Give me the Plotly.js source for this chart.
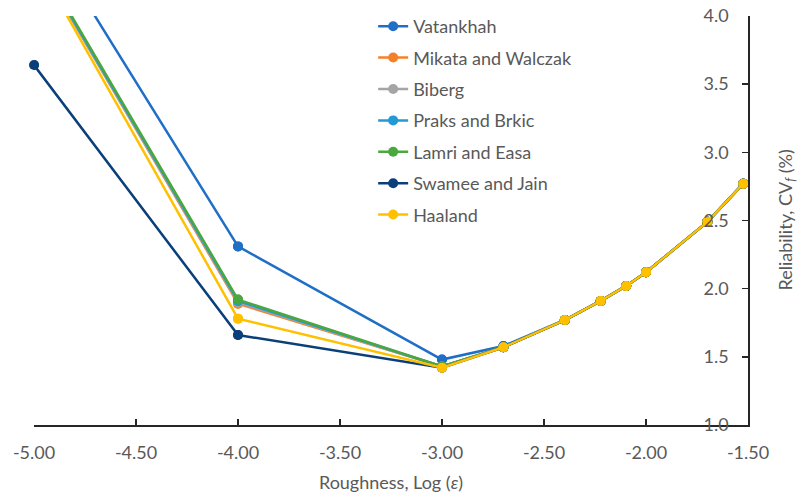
<!DOCTYPE html>
<html>
<head>
<meta charset="utf-8">
<script src="https://cdn.plot.ly/plotly-3.0.1.min.js"></script>
<style>html,body{margin:0;padding:0;background:#fff;}#chart{width:798px;height:498px;}</style>
</head>
<body>
<div id="chart"></div>
<script>
// log10 of roughness
const logRoughness = [-5.0, -4.0, -3.0, -2.699, -2.398, -2.222, -2.097, -2.0, -1.699, -1.523];

const seriesNames = ["Vatankhah", "Mikata and Walczak", "Biberg", "Praks and Brkic", "Lamri and Easa", "Swamee and Jain", "Haaland"];
const seriesColors = ["#1f6fc6", "#f5802a", "#a5a5a5", "#2399d6", "#4aa83f", "#0b3f7a", "#ffc000"];

const vatankhah = [4.72, 2.31, 1.48, 1.58, 1.77, 1.91, 2.02, 2.12, 2.49, 2.77];
const mikata    = [4.45, 1.89, 1.43, 1.57, 1.77, 1.91, 2.02, 2.12, 2.49, 2.77];
const biberg    = [4.45, 1.90, 1.43, 1.57, 1.77, 1.91, 2.02, 2.12, 2.49, 2.77];
const praks     = [4.46, 1.91, 1.43, 1.57, 1.77, 1.91, 2.02, 2.12, 2.49, 2.77];
const lamri     = [4.47, 1.92, 1.43, 1.57, 1.77, 1.91, 2.02, 2.12, 2.49, 2.77];
const swamee    = [3.64, 1.66, 1.42, 1.57, 1.77, 1.91, 2.02, 2.12, 2.49, 2.77];
const haaland   = [4.43, 1.78, 1.42, 1.57, 1.77, 1.91, 2.02, 2.12, 2.49, 2.77];

const seriesValues = [vatankhah, mikata, biberg, praks, lamri, swamee, haaland];

const xTickVals = [-5.0, -4.5, -4.0, -3.5, -3.0, -2.5, -2.0, -1.5];
const xTickText = ["-5.00", "-4.50", "-4.00", "-3.50", "-3.00", "-2.50", "-2.00", "-1.50"];
const yTickVals = [1.0, 1.5, 2.0, 2.5, 3.0, 3.5, 4.0];
const yTickText = ["1.0", "1.5", "2.0", "2.5", "3.0", "3.5", "4.0"];

const FONT = "Lato, 'Open Sans', sans-serif";
const GREY = "#595959";
const FS = 18;

const traces = [];
seriesNames.forEach((name, i) => {
  traces.push({
    type: "scatter", mode: "lines+markers", name: name,
    x: logRoughness, y: seriesValues[i],
    legendgroup: name,
    line: {color: seriesColors[i], width: 2.5},
    marker: {color: seriesColors[i], size: 10},
    cliponaxis: true
  });
  traces.push({
    type: "scatter", mode: "markers", name: name,
    x: logRoughness, y: seriesValues[i],
    legendgroup: name, showlegend: false, hoverinfo: "skip",
    marker: {color: seriesColors[i], size: 10},
    cliponaxis: false
  });
});

const layout = {
  width: 798, height: 498,
  margin: {l: 34, r: 50, t: 16, b: 73, autoexpand: false},
  paper_bgcolor: "#ffffff", plot_bgcolor: "#ffffff",
  font: {family: FONT, size: FS, color: GREY},
  showlegend: true,
  legend: {
    x: 0.475, y: 1.0196, xanchor: "left", yanchor: "top",
    font: {family: FONT, size: FS, color: GREY},
    traceorder: "grouped", tracegroupgap: 5,
    bgcolor: "rgba(0,0,0,0)", borderwidth: 0
  },
  xaxis: {
    range: [-5.0, -1.5],
    tickvals: xTickVals, ticktext: xTickText,
    ticks: "inside", ticklen: 6, tickwidth: 1.5, tickcolor: "#262626",
    ticklabelstandoff: 11,
    showline: true, linecolor: "#262626", linewidth: 1.6,
    showgrid: false, zeroline: false,
    tickfont: {family: FONT, size: FS, color: GREY},
    title: {text: "Roughness, Log (<i>ε</i>)", font: {family: FONT, size: FS, color: GREY}, standoff: 14}
  },
  yaxis: {
    range: [1.0, 4.0],
    side: "right",
    tickvals: yTickVals, ticktext: yTickText,
    ticks: "inside", ticklen: 6, tickwidth: 1.5, tickcolor: "#262626",
    ticklabelposition: "inside", ticklabeloverflow: "allow",
    ticklabelstandoff: 14,
    showline: true, linecolor: "#262626", linewidth: 1.8,
    showgrid: false, zeroline: false,
    tickfont: {family: FONT, size: FS, color: GREY}
  },
  annotations: [{
    xref: "paper", yref: "paper", x: 1, y: 0.5,
    xanchor: "center", yanchor: "middle", xshift: 38,
    textangle: -90, showarrow: false,
    text: "Reliability, CV<sub><i>f</i></sub> (%)",
    font: {family: FONT, size: FS, color: GREY}
  }]
};

Plotly.newPlot("chart", traces, layout, {displayModeBar: false, staticPlot: true});
</script>
</body>
</html>
